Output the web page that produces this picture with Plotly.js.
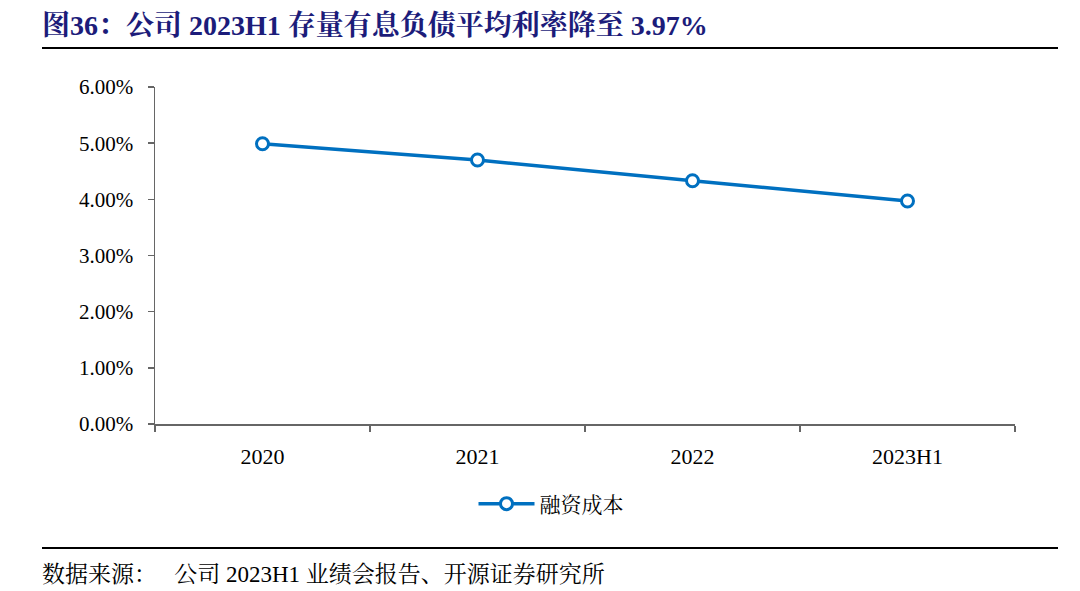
<!DOCTYPE html>
<html>
<head>
<meta charset="utf-8">
<script src="https://cdn.plot.ly/plotly-3.0.1.min.js"></script>
<style>html,body{margin:0;padding:0;background:#fff;}#chart{width:1080px;height:591px;}</style>
</head>
<body>
<div id="chart"></div>
<script>
const categories = ["2020", "2021", "2022", "2023H1"];
const financingCost = [0.0499, 0.0470, 0.0433, 0.0397];
const seriesName = "融资成本";
const titleText = "图36：公司 2023H1 存量有息负债平均利率降至 3.97%";
const sourceText = "数据来源：&nbsp;&nbsp;&nbsp;公司 2023H1 业绩会报告、开源证券研究所";

const W = 1080, H = 591;
const L = 155, R = 65, T = 87, B = 167;
const pw = W - L - R, ph = H - T - B;
const px = x => (x - L) / pw;
const py = y => (H - B - y) / ph;

const serif = '"Liberation Serif", "Times New Roman", "Noto Serif CJK SC", "Noto Sans CJK SC", serif';

const trace = {
  x: categories,
  y: financingCost,
  name: seriesName,
  type: 'scatter',
  mode: 'lines+markers',
  line: {color: '#0070C0', width: 3.5},
  marker: {symbol: 'circle', size: 12, color: '#ffffff', line: {color: '#0070C0', width: 3}}
};

const layout = {
  width: W, height: H,
  margin: {l: L, r: R, t: T, b: B},
  paper_bgcolor: '#ffffff',
  plot_bgcolor: '#ffffff',
  font: {family: serif, color: '#000000', size: 20},
  showlegend: true,
  legend: {
    orientation: 'h', x: px(551), xanchor: 'center', y: py(504), yanchor: 'middle',
    font: {family: serif, size: 21, color: '#000000'}, itemwidth: 56
  },
  xaxis: {
    type: 'category', range: [-0.5, 3.5],
    showline: true, linecolor: '#666666', linewidth: 1.5,
    ticks: 'outside', ticklen: 6, tickcolor: '#666666', tickwidth: 1.5,
    tickson: 'boundaries', showgrid: false, zeroline: false,
    tickfont: {family: serif, size: 22, color: '#000000'},
    ticklabelstandoff: 12
  },
  yaxis: {
    range: [0, 0.06], dtick: 0.01, tickformat: '.2%',
    showline: true, linecolor: '#666666', linewidth: 1.5,
    ticks: 'outside', ticklen: 6, tickcolor: '#666666', tickwidth: 1.5,
    showgrid: false, zeroline: false,
    tickfont: {family: serif, size: 21, color: '#000000'},
    ticklabelstandoff: 10
  },
  shapes: [
    {type: 'line', xref: 'paper', yref: 'paper', x0: px(42), x1: px(1058), y0: py(48), y1: py(48), line: {color: '#000000', width: 2}},
    {type: 'line', xref: 'paper', yref: 'paper', x0: px(42), x1: px(1058), y0: py(548), y1: py(548), line: {color: '#000000', width: 2}}
  ],
  annotations: [
    {xref: 'paper', yref: 'paper', x: px(40), y: py(25), xanchor: 'left', yanchor: 'middle', showarrow: false,
     text: '<b>' + titleText + '</b>', font: {family: serif, size: 28, color: '#1C1C7A'}},
    {xref: 'paper', yref: 'paper', x: px(40), y: py(574), xanchor: 'left', yanchor: 'middle', showarrow: false,
     text: sourceText, font: {family: serif, size: 23, color: '#000000'}}
  ]
};

Plotly.newPlot('chart', [trace], layout, {displayModeBar: false, staticPlot: true});
</script>
</body>
</html>
